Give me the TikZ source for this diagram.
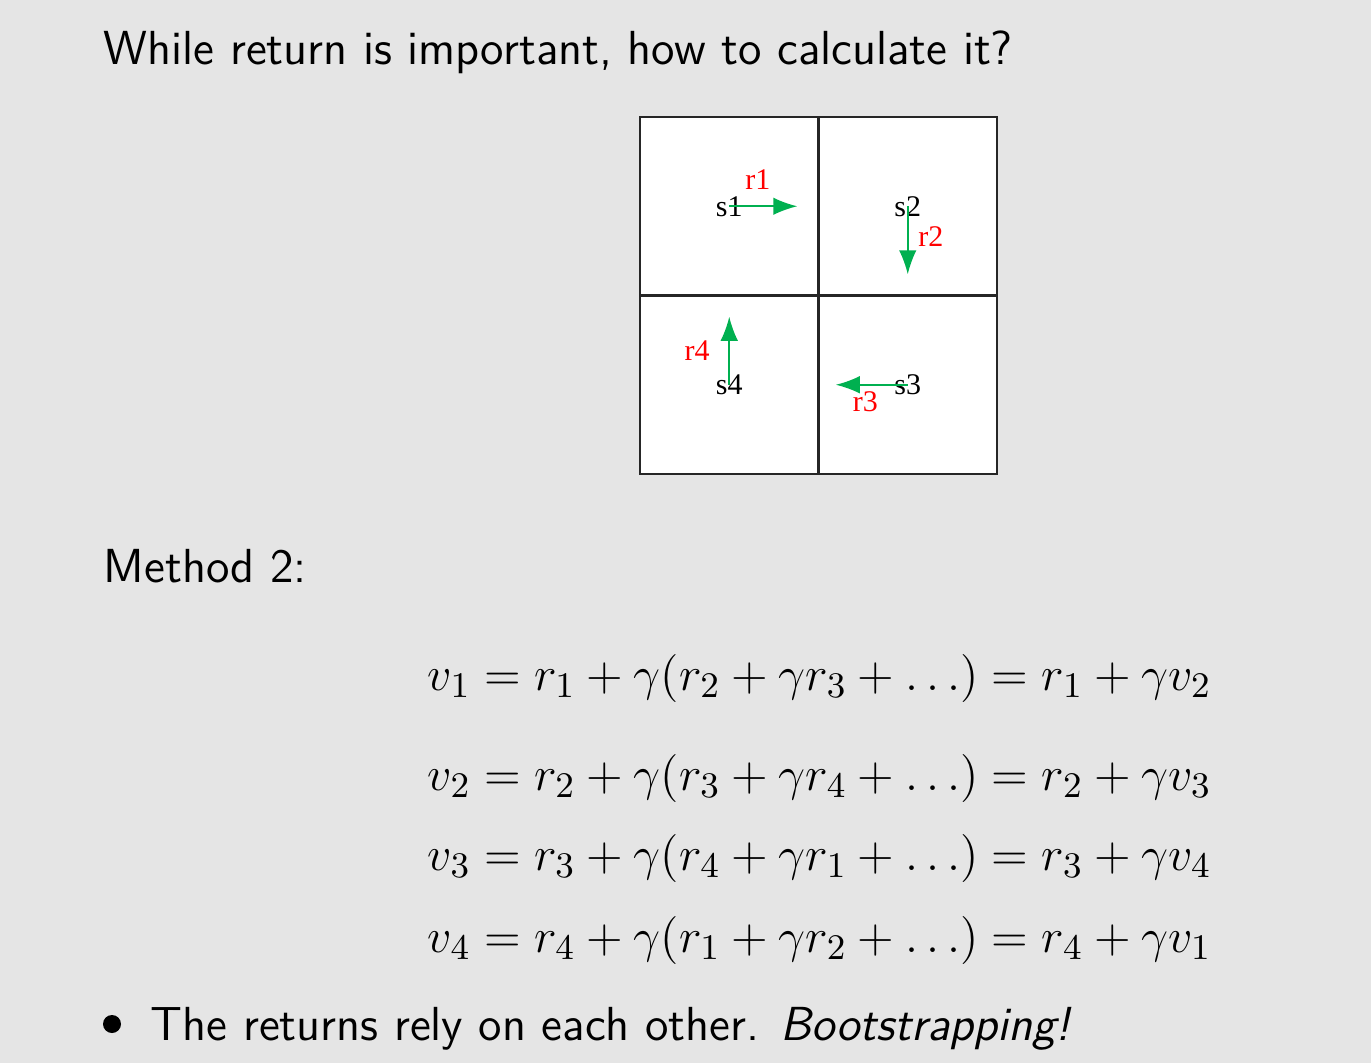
\documentclass[tikz,border=0pt]{standalone}
\usepackage{fontspec}
\newfontfamily\gridfont{Liberation Serif}
\usetikzlibrary{positioning}
\usetikzlibrary{arrows.meta}
\definecolor{slidebg}{RGB}{229,229,229}
\definecolor{movegreen}{RGB}{0,176,80}

\begin{document}
\begin{tikzpicture}[%
    x=0.25pt, y=-0.25pt,
    node distance=0pt,
    cell/.style={rectangle, draw=black!85, fill=white, line width=0.6pt, minimum size=44.625pt, inner sep=0pt, outer sep=0pt},
    state/.style={font=\gridfont\fontsize{7.5}{9}\selectfont, inner sep=0pt},
    reward/.style={font=\gridfont\fontsize{7.5}{9}\selectfont, text=red, inner sep=0pt},
    move/.style={-{Latex[length=6pt,width=4.4pt]}, draw=movegreen, line width=0.45pt},
    slidetext/.style={font=\sffamily\fontsize{11.95}{14.4}\selectfont, anchor=base west, inner sep=0pt},
    eqn/.style={font=\fontsize{13}{16}\selectfont, anchor=base west, inner sep=0pt}
]

% slide background
\fill[slidebg] (0,0) rectangle (1371,1063);
\useasboundingbox (0,0) rectangle (1371,1063);

% title
\node[slidetext] (title) at (103,64) {While return is important, how to calculate it?};

% grid cells
\node[cell]      (cell1) at (729.25,206.25) {};
\node[cell]      (cell2) [right=of cell1] {};
\node[cell]      (cell4) [below=of cell1] {};
\node[cell]      (cell3) [right=of cell4] {};

% states
\node[state]     (s1) at (cell1) {s1};
\node[state]     (s2) at (cell2) {s2};
\node[state]     (s3) at (cell3) {s3};
\node[state]     (s4) at (cell4) {s4};

% arrow ends
\coordinate[right=17pt of s1.center] (e1);
\coordinate[below=17pt of s2.center] (e2);
\coordinate[left=18pt of s3.center]  (e3);
\coordinate[above=17pt of s4.center] (e4);

% moves
\draw[move] (s1.center) -- node[reward, above=4pt, pos=0.42] (r1) {r1} (e1);
\draw[move] (s2.center) -- node[reward, right=2.4pt, pos=0.45] (r2) {r2} (e2);
\draw[move] (s3.center) -- node[reward, below=1.5pt, pos=0.59] (r3) {r3} (e3);
\draw[move] (s4.center) -- node[reward, left=4.7pt, pos=0.5] (r4) {r4} (e4);

% method
\node[slidetext] (method) at (103,582) {Method 2:};

% bellman equations
\node[eqn] (eq1) at (427,690) {$v_1 = r_1 + \gamma(r_2 + \gamma r_3 + \ldots) = r_1 + \gamma v_2$};
\node[eqn] (eq2) at (427,790) {$v_2 = r_2 + \gamma(r_3 + \gamma r_4 + \ldots) = r_2 + \gamma v_3$};
\node[eqn] (eq3) at (427,870) {$v_3 = r_3 + \gamma(r_4 + \gamma r_1 + \ldots) = r_3 + \gamma v_4$};
\node[eqn] (eq4) at (427,952) {$v_4 = r_4 + \gamma(r_1 + \gamma r_2 + \ldots) = r_4 + \gamma v_1$};

% bullet
\node[circle, fill=black, inner sep=0pt, minimum size=4.5pt] (dot) at (112,1024) {};
\node[slidetext] (note) at (150,1040) {The returns rely on each other. \textit{Bootstrapping!}};

\end{tikzpicture}
\end{document}
